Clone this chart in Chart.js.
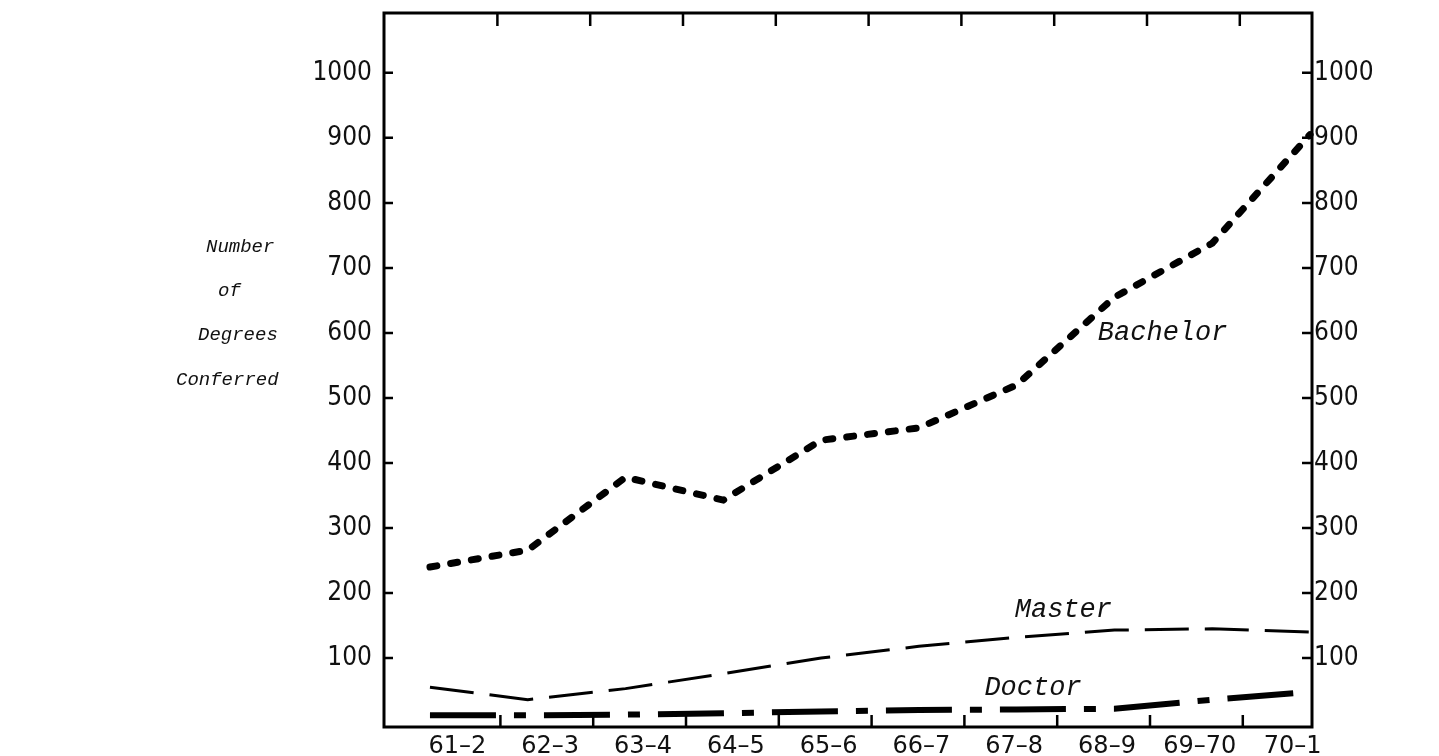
<!DOCTYPE html>
<html>
<head>
<meta charset="utf-8">
<script src="https://cdn.jsdelivr.net/npm/chart.js@4.4.1/dist/chart.umd.min.js"></script>
<style>
  body { margin: 0; background: #fff; }
  #wrap { width: 1439px; height: 756px; }
</style>
</head>
<body>
<div id="wrap"><canvas id="degrees" width="1439" height="756"></canvas></div>
<script>
// academic years along the bottom
const years = ['61–2', '62–3', '63–4', '64–5', '65–6', '66–7', '67–8', '68–9', '69–70', '70–1'];

// degrees conferred
const bachelor = [240, 266, 378, 343, 435, 454, 520, 655, 738, 905];
const master = [55, 36, 53, 76, 100, 118, 132, 143, 145, 140];
const doctor = [12, 12, 13, 15, 18, 20, 21, 22, 36, 48];

// y tick labels on both sides
const yTicks = [100, 200, 300, 400, 500, 600, 700, 800, 900, 1000];

// left-hand caption, one entry per typed line
const captionLines = ['Number', 'of', 'Degrees', 'Conferred'];

const labelOffset = 27;

function asPoints(arr) {
    return arr.map((v, i) => ({ x: i, y: v }));
}

function setTicks(scale) {
    scale.ticks = yTicks.map(v => ({ value: v }));
}

// frame with inward tick marks, curve names and the side caption
const typewriterBits = {
    id: 'typewriterBits',
    afterDraw(chart) {
        const ctx = chart.ctx;
        const a = chart.chartArea;
        const y = chart.scales.y;
        const x = chart.scales.x;
        const xl = chart.scales.xl;
        ctx.save();
        ctx.strokeStyle = '#000';
        ctx.lineWidth = 3;
        ctx.strokeRect(a.left, a.top, a.right - a.left, a.bottom - a.top);

        ctx.lineWidth = 2.5;
        ctx.beginPath();
        yTicks.forEach(v => {
            const py = y.getPixelForValue(v);
            ctx.moveTo(a.left, py); ctx.lineTo(a.left + 9, py);
            ctx.moveTo(a.right - 10, py); ctx.lineTo(a.right, py);
        });
        // marks sit just right of each year label, as typed on the original
        for (let i = 0; i < years.length - 1; i++) {
            const px = xl.getPixelForValue(i) + 70;
            ctx.moveTo(px, a.bottom); ctx.lineTo(px, a.bottom - 12);
            ctx.moveTo(px - 3, a.top); ctx.lineTo(px - 3, a.top + 13);
        }
        ctx.stroke();

        // curve names
        ctx.fillStyle = '#111';
        ctx.font = 'italic 27px "Liberation Mono", "DejaVu Sans Mono", monospace';
        ctx.textBaseline = 'middle';
        ctx.textAlign = 'left';
        ctx.fillText('Bachelor', x.getPixelForValue(6.83), y.getPixelForValue(600));
        ctx.fillText('Master', x.getPixelForValue(5.98), y.getPixelForValue(174));
        ctx.fillText('Doctor', x.getPixelForValue(5.67), y.getPixelForValue(54));

        // side caption
        ctx.font = 'italic 19px "Liberation Mono", "DejaVu Sans Mono", monospace';
        const capX = [206, 218, 198, 176];
        const capY = [247, 291, 335, 380];
        captionLines.forEach((t, i) => ctx.fillText(t, capX[i], capY[i]));
        ctx.restore();
    }
};

const tickFont = { family: '"DejaVu Sans Condensed", "Liberation Sans Narrow", sans-serif', size: 26 };

function noPad(s) {
    s.paddingTop = 0;
    s.paddingBottom = 0;
}

new Chart(document.getElementById('degrees'), {
    type: 'line',
    data: {
        datasets: [
            {
                label: 'Bachelor',
                data: asPoints(bachelor),
                borderColor: '#000',
                borderWidth: 7,
                borderDash: [7, 14],
                borderCapStyle: 'round',
                pointRadius: 0,
                tension: 0,
                clip: false
            },
            {
                label: 'Master',
                data: asPoints(master),
                borderColor: '#000',
                borderWidth: 3,
                borderDash: [44, 16],
                borderCapStyle: 'butt',
                pointRadius: 0,
                tension: 0,
                clip: false
            },
            {
                label: 'Doctor',
                data: asPoints(doctor),
                borderColor: '#000',
                borderWidth: 6,
                borderDash: [66, 18, 12, 18],
                borderCapStyle: 'butt',
                pointRadius: 0,
                tension: 0,
                clip: false
            }
        ]
    },
    options: {
        responsive: false,
        animation: false,
        layout: { padding: { top: 13, left: 0, right: 0, bottom: 0 } },
        plugins: {
            legend: { display: false },
            tooltip: { enabled: false },
            title: { display: false }
        },
        scales: {
            x: {
                type: 'linear',
                display: false,
                min: -0.47,
                max: 9.02
            },
            xl: {
                type: 'category',
                labels: years,
                position: 'bottom',
                offset: true,
                grid: { display: false, drawTicks: false },
                border: { display: false },
                ticks: {
                    color: '#111',
                    font: { family: '"DejaVu Sans", sans-serif', size: 24 },
                    padding: 5,
                    labelOffset: labelOffset,
                    maxRotation: 0,
                    autoSkip: false
                },
                afterFit(s) { s.height = 29; s.paddingLeft = 0; s.paddingRight = 0; }
            },
            y: {
                type: 'linear',
                position: 'left',
                min: -6,
                max: 1092,
                afterBuildTicks: setTicks,
                grid: { display: false, drawTicks: false },
                border: { display: false },
                ticks: { color: '#111', font: tickFont, padding: 12, callback: v => String(v) },
                afterFit(s) { s.width = 384; noPad(s); }
            },
            y2: {
                type: 'linear',
                position: 'right',
                min: -6,
                max: 1092,
                afterBuildTicks: setTicks,
                grid: { display: false, drawTicks: false },
                border: { display: false },
                ticks: { color: '#111', font: tickFont, padding: 2, callback: v => String(v) },
                afterFit(s) { s.width = 127; noPad(s); }
            }
        }
    },
    plugins: [typewriterBits]
});
</script>
</body>
</html>
